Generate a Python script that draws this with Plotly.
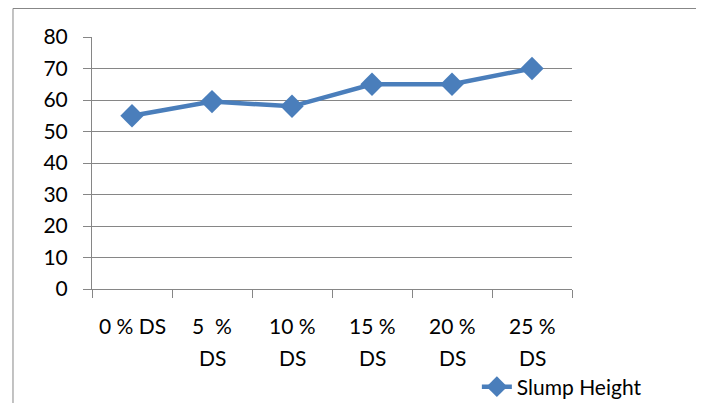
import plotly.graph_objects as go

categories = ["0 % DS", "5 % DS", "10 % DS", "15 % DS", "20 % DS", "25 % DS"]
label_line1 = ["0 % DS", "5\u00a0\u00a0%", "10 %", "15 %", "20 %", "25 %"]
label_line2 = ["", "DS", "DS", "DS", "DS", "DS"]
slump_height = [55, 59.5, 58, 65, 65, 70]
y_ticks = [0, 10, 20, 30, 40, 50, 60, 70, 80]

FONT = "Lato"
GRAY = "#868686"
BLUE = "#4A7EBB"

fig = go.Figure()
fig.add_trace(go.Scatter(
    x=categories, y=slump_height, mode="lines+markers", name="Slump Height",
    line=dict(color=BLUE, width=4.5),
    marker=dict(symbol="diamond", size=18, color=BLUE),
))

annotations = []
for c, l1, l2 in zip(categories, label_line1, label_line2):
    annotations.append(dict(x=c, y=-0.143, xref="x", yref="paper", text=l1,
                            showarrow=False, yanchor="middle",
                            font=dict(family=FONT, size=21, color="black")))
    if l2:
        annotations.append(dict(x=c, y=-0.270, xref="x", yref="paper", text=l2,
                                showarrow=False, yanchor="middle",
                                font=dict(family=FONT, size=21, color="black")))

# the page body has an 8px margin, so the figure sits 8px right/down
fig.update_layout(
    width=704, height=403,
    margin=dict(l=84, r=140, t=29, b=122, autoexpand=False),
    paper_bgcolor="white", plot_bgcolor="white",
    font=dict(family=FONT, size=21, color="black"),
    showlegend=True,
    legend=dict(xref="container", yref="container", x=0.666, y=0.0596,
                xanchor="left", yanchor="middle",
                borderwidth=0, itemwidth=30, tracegroupgap=0,
                bgcolor="rgba(0,0,0,0)", font=dict(family=FONT, size=21)),
    xaxis=dict(type="category", range=[-0.5, len(categories) - 0.5],
               showticklabels=False, showline=True, automargin=False,
               linecolor=GRAY, linewidth=1, ticks="outside", tickson="boundaries",
               ticklen=8, tickcolor=GRAY, showgrid=False, zeroline=False),
    yaxis=dict(range=[0, 80], tickvals=y_ticks, showline=True, linecolor=GRAY,
               automargin=False,
               linewidth=1, ticks="outside", ticklen=8, tickcolor=GRAY,
               showgrid=True, gridcolor=GRAY, gridwidth=1, zeroline=False,
               ticklabelstandoff=11, tickfont=dict(family=FONT, size=21)),
    annotations=annotations,
    shapes=[dict(type="rect", xref="paper", yref="paper",
                 x0=-0.1646, x1=1.2604, y0=-0.6, y1=1.1131,
                 line=dict(color=GRAY, width=1), fillcolor="rgba(0,0,0,0)", layer="below")],
)

fig.write_html("out.html")
